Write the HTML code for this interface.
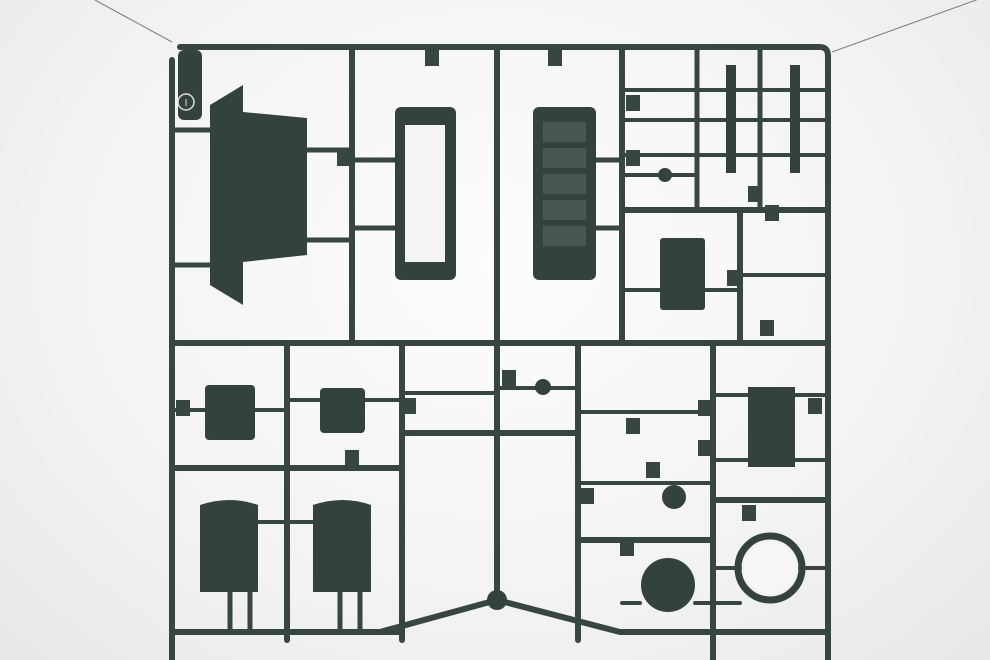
<!DOCTYPE html>
<html><head><meta charset="utf-8"><style>
html,body{margin:0;padding:0;}
body{width:990px;height:660px;overflow:hidden;background:radial-gradient(ellipse at 50% 40%,#fdfdfd 0%,#f3f3f3 60%,#e8e8e8 100%);}
svg{display:block}
</style></head><body>
<svg width="990" height="660" viewBox="0 0 990 660" xmlns="http://www.w3.org/2000/svg" font-family="Liberation Sans, sans-serif">
<g stroke="#7a7f7c" stroke-width="1" fill="none">
<line x1="95" y1="0" x2="172" y2="42"/><line x1="832" y1="52" x2="990" y2="-5"/>
</g>
<g stroke="#37463f" stroke-width="6" fill="none" stroke-linecap="round">
<path d="M180 47 H820 Q828 47 828 56 V660"/>
<path d="M172 60 V660"/>
<line x1="172" y1="343" x2="828" y2="343"/>
<line x1="352" y1="47" x2="352" y2="343"/>
<line x1="497" y1="47" x2="497" y2="600"/>
<line x1="622" y1="47" x2="622" y2="343"/>
<line x1="172" y1="468" x2="402" y2="468"/>
<line x1="287" y1="343" x2="287" y2="640"/>
<line x1="402" y1="343" x2="402" y2="640"/>
<line x1="578" y1="343" x2="578" y2="640"/>
<line x1="713" y1="343" x2="713" y2="660"/>
<line x1="402" y1="433" x2="578" y2="433"/>
<line x1="172" y1="632" x2="400" y2="632"/>
<path d="M380 632 L497 600 L620 632 H828"/>
<line x1="622" y1="210" x2="828" y2="210"/>
<line x1="740" y1="210" x2="740" y2="343"/>
<line x1="578" y1="540" x2="713" y2="540"/>
<line x1="713" y1="500" x2="828" y2="500"/>
<line x1="622" y1="90" x2="828" y2="90" stroke-width="4"/>
<line x1="622" y1="120" x2="828" y2="120" stroke-width="4"/>
<line x1="622" y1="155" x2="828" y2="155" stroke-width="4"/>
<line x1="697" y1="47" x2="697" y2="210" stroke-width="5"/>
<line x1="760" y1="47" x2="760" y2="210" stroke-width="5"/>
<line x1="172" y1="265" x2="210" y2="265" stroke-width="5"/>
<line x1="172" y1="130" x2="210" y2="130" stroke-width="5"/>
<line x1="307" y1="150" x2="352" y2="150" stroke-width="5"/>
<line x1="307" y1="240" x2="352" y2="240" stroke-width="5"/>
<line x1="352" y1="160" x2="395" y2="160" stroke-width="5"/>
<line x1="352" y1="228" x2="395" y2="228" stroke-width="5"/>
<line x1="596" y1="160" x2="622" y2="160" stroke-width="5"/>
<line x1="596" y1="228" x2="622" y2="228" stroke-width="5"/>
<line x1="622" y1="175" x2="697" y2="175" stroke-width="4"/>
<line x1="622" y1="290" x2="660" y2="290" stroke-width="4"/>
<line x1="705" y1="290" x2="740" y2="290" stroke-width="4"/>
<line x1="740" y1="275" x2="828" y2="275" stroke-width="4"/>
<line x1="172" y1="410" x2="205" y2="410" stroke-width="4"/>
<line x1="255" y1="410" x2="287" y2="410" stroke-width="4"/>
<line x1="287" y1="400" x2="320" y2="400" stroke-width="4"/>
<line x1="365" y1="400" x2="402" y2="400" stroke-width="4"/>
<line x1="402" y1="393" x2="497" y2="393" stroke-width="4"/>
<line x1="497" y1="388" x2="578" y2="388" stroke-width="4"/>
<line x1="578" y1="412" x2="713" y2="412" stroke-width="4"/>
<line x1="578" y1="483" x2="713" y2="483" stroke-width="4"/>
<line x1="713" y1="395" x2="828" y2="395" stroke-width="4"/>
<line x1="713" y1="460" x2="828" y2="460" stroke-width="4"/>
<line x1="258" y1="522" x2="313" y2="522" stroke-width="4"/>
<line x1="622" y1="603" x2="640" y2="603" stroke-width="4"/>
<line x1="695" y1="603" x2="740" y2="603" stroke-width="4"/>
<line x1="713" y1="568" x2="740" y2="568" stroke-width="4"/>
<line x1="800" y1="568" x2="828" y2="568" stroke-width="4"/>
<line x1="230" y1="590" x2="230" y2="632" stroke-width="5"/>
<line x1="250" y1="590" x2="250" y2="632" stroke-width="5"/>
<line x1="340" y1="590" x2="340" y2="632" stroke-width="5"/>
<line x1="360" y1="590" x2="360" y2="632" stroke-width="5"/>
</g>
<g fill="#33433b">
<polygon points="210,105 243,85 243,112 307,118 307,255 243,262 243,305 210,285"/>
<rect x="395" y="107" width="61" height="173" rx="6"/>
<rect x="533" y="107" width="63" height="173" rx="6"/>
<rect x="660" y="238" width="45" height="72" rx="3"/>
<rect x="726" y="65" width="10" height="108"/>
<rect x="790" y="65" width="10" height="108"/>
<rect x="205" y="385" width="50" height="55" rx="4"/>
<rect x="320" y="388" width="45" height="45" rx="4"/>
<rect x="748" y="387" width="47" height="80"/>
<path d="M200 505 Q230 495 258 505 V592 H200 Z"/>
<path d="M313 505 Q343 495 371 505 V592 H313 Z"/>
<circle cx="668" cy="585" r="27"/>
<circle cx="674" cy="497" r="12"/>
<circle cx="665" cy="175" r="7"/>
<circle cx="543" cy="387" r="8"/>
<circle cx="497" cy="600" r="10"/>
<rect x="178" y="50" width="24" height="70" rx="6"/>
</g>
<rect x="405" y="125" width="40" height="137" fill="#f4f4f4"/>
<g fill="#4a5650">
<rect x="543" y="122" width="43" height="20"/><rect x="543" y="148" width="43" height="20"/><rect x="543" y="174" width="43" height="20"/><rect x="543" y="200" width="43" height="20"/><rect x="543" y="226" width="43" height="20"/>
</g>
<circle cx="770" cy="568" r="32" fill="none" stroke="#33433b" stroke-width="7"/>
<circle cx="770" cy="568" r="26" fill="#f6f6f6"/>
<g fill="#37463f">
<rect x="425" y="50" width="14" height="16"/><rect x="548" y="50" width="14" height="16"/>
<rect x="337" y="150" width="14" height="16"/><rect x="626" y="150" width="14" height="16"/>
<rect x="626" y="95" width="14" height="16"/><rect x="765" y="205" width="14" height="16"/>
<rect x="748" y="186" width="14" height="16"/><rect x="727" y="270" width="14" height="16"/>
<rect x="760" y="320" width="14" height="16"/><rect x="176" y="400" width="14" height="16"/>
<rect x="345" y="450" width="14" height="16"/><rect x="402" y="398" width="14" height="16"/>
<rect x="502" y="370" width="14" height="16"/><rect x="626" y="418" width="14" height="16"/>
<rect x="698" y="400" width="14" height="16"/><rect x="698" y="440" width="14" height="16"/>
<rect x="646" y="462" width="14" height="16"/><rect x="580" y="488" width="14" height="16"/>
<rect x="808" y="398" width="14" height="16"/><rect x="742" y="505" width="14" height="16"/>
<rect x="620" y="540" width="14" height="16"/>
</g>
<circle cx="186" cy="102" r="8" fill="none" stroke="#ddd" stroke-width="1.5"/>
<text x="186" y="106" font-size="10" fill="#ddd" text-anchor="middle">I</text>
</svg>
</body></html>
